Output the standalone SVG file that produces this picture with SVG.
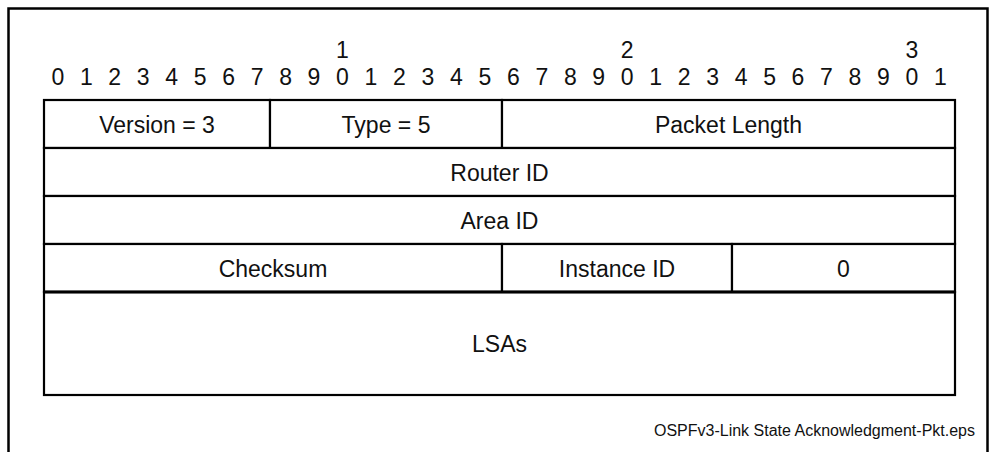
<svg xmlns="http://www.w3.org/2000/svg" width="989" height="452" viewBox="0 0 989 452">
  <style>
    .frame { fill: none; stroke: #000; stroke-width: 2.5; }
    .cell { fill: #fff; stroke: #000; stroke-width: 2.2; }
    .lbl { font-family: "Liberation Sans", Arial, sans-serif; font-size: 23px; fill: #111; text-anchor: middle; }
    .bit { font-family: "Liberation Sans", Arial, sans-serif; font-size: 23px; fill: #111; text-anchor: middle; }
    .foot { font-family: "Liberation Sans", Arial, sans-serif; font-size: 16px; fill: #111; text-anchor: end; }
  </style>
  <rect width="989" height="452" fill="#fff"/>
  <path class="frame" d="M8.5,460 V8.5 H987.5 V460"/>

  <g id="bit-ruler">
    <text class="bit" x="342.5" y="58">1</text>
    <text class="bit" x="627.2" y="58">2</text>
    <text class="bit" x="911.9" y="58">3</text>
    <text class="bit" y="85">
      <tspan x="57.8">0</tspan><tspan x="86.3">1</tspan><tspan x="114.7">2</tspan><tspan x="143.2">3</tspan><tspan x="171.7">4</tspan><tspan x="200.2">5</tspan><tspan x="228.6">6</tspan><tspan x="257.1">7</tspan><tspan x="285.6">8</tspan><tspan x="314.0">9</tspan><tspan x="342.5">0</tspan><tspan x="371.0">1</tspan><tspan x="399.4">2</tspan><tspan x="427.9">3</tspan><tspan x="456.4">4</tspan><tspan x="484.9">5</tspan><tspan x="513.3">6</tspan><tspan x="541.8">7</tspan><tspan x="570.3">8</tspan><tspan x="598.7">9</tspan><tspan x="627.2">0</tspan><tspan x="655.7">1</tspan><tspan x="684.1">2</tspan><tspan x="712.6">3</tspan><tspan x="741.1">4</tspan><tspan x="769.6">5</tspan><tspan x="798.0">6</tspan><tspan x="826.5">7</tspan><tspan x="855.0">8</tspan><tspan x="883.4">9</tspan><tspan x="911.9">0</tspan><tspan x="940.4">1</tspan>
    </text>
  </g>

  <g id="version">
    <rect class="cell" x="44" y="100" width="226" height="48"/>
    <text class="lbl" x="157" y="133">Version = 3</text>
  </g>
  <g id="type">
    <rect class="cell" x="270" y="100" width="232" height="48"/>
    <text class="lbl" x="386" y="133">Type = 5</text>
  </g>
  <g id="packet-length">
    <rect class="cell" x="502" y="100" width="453" height="48"/>
    <text class="lbl" x="728.5" y="133">Packet Length</text>
  </g>
  <g id="router-id">
    <rect class="cell" x="44" y="148" width="911" height="48"/>
    <text class="lbl" x="499.5" y="181">Router ID</text>
  </g>
  <g id="area-id">
    <rect class="cell" x="44" y="196" width="911" height="48"/>
    <text class="lbl" x="499.5" y="229">Area ID</text>
  </g>
  <g id="checksum">
    <rect class="cell" x="44" y="244" width="458" height="48"/>
    <text class="lbl" x="273" y="277">Checksum</text>
  </g>
  <g id="instance-id">
    <rect class="cell" x="502" y="244" width="230" height="48"/>
    <text class="lbl" x="617" y="277">Instance ID</text>
  </g>
  <g id="zero">
    <rect class="cell" x="732" y="244" width="223" height="48"/>
    <text class="lbl" x="843.5" y="277">0</text>
  </g>
  <g id="lsas">
    <rect class="cell" x="44" y="292" width="911" height="103"/>
    <text class="lbl" x="499.5" y="352">LSAs</text>
  </g>
  <g id="connectors">
    <line x1="44" y1="292" x2="955" y2="292" stroke="#000" stroke-width="3.2"/>
  </g>

  <text class="foot" x="975" y="436">OSPFv3-Link State Acknowledgment-Pkt.eps</text>
</svg>
